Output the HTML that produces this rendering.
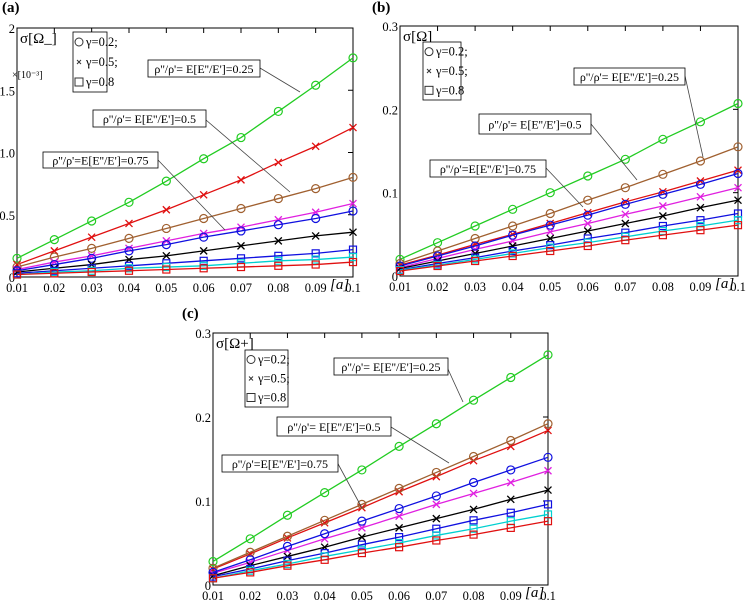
<!DOCTYPE html>
<html><head><meta charset="utf-8"><style>
body{margin:0;background:#fff;}
svg{display:block;font-family:"Liberation Serif",serif;}
</style></head><body>
<svg id="s" width="747" height="600" viewBox="0 0 747 600"></svg>
<script>
const xs=[0.01,0.02,0.03,0.04,0.05,0.06,0.07,0.08,0.09,0.1];
const xTickLabels=["0.01","0.02","0.03","0.04","0.05","0.06","0.07","0.08","0.09","0.1"];
const seriesNames=["rho025-g02","rho05-g05","rho05-g02","rho075-g05","rho075-g02","rho-g05-black","rho-g08-blue","rho-g08-cyan","rho-g08-red"];
const seriesColors=["#22cc22","#e01010","#a06030","#e020e0","#1010e0","#000000","#1010e0","#00d0d0","#e01010"];
const seriesMarkers=["o","x","o","x","o","x","s","s","s"];
const aGreen=[0.15,0.30,0.45,0.60,0.77,0.95,1.12,1.33,1.54,1.76];
const aRedX=[0.10,0.21,0.32,0.43,0.54,0.66,0.78,0.92,1.05,1.20];
const aBrown=[0.08,0.16,0.23,0.31,0.39,0.47,0.55,0.63,0.71,0.80];
const aMag=[0.06,0.12,0.17,0.23,0.29,0.35,0.40,0.46,0.52,0.59];
const aBlueO=[0.05,0.10,0.15,0.21,0.26,0.32,0.37,0.42,0.47,0.53];
const aBlack=[0.04,0.07,0.10,0.14,0.17,0.21,0.25,0.29,0.33,0.36];
const aBlueS=[0.03,0.05,0.07,0.09,0.11,0.13,0.15,0.17,0.19,0.22];
const aCyan=[0.02,0.04,0.05,0.07,0.08,0.09,0.11,0.13,0.14,0.16];
const aRedS=[0.02,0.03,0.04,0.05,0.06,0.07,0.08,0.09,0.10,0.12];
const bGreen=[0.02,0.04,0.06,0.08,0.10,0.12,0.14,0.164,0.185,0.207];
const bRedX=[0.013,0.025,0.038,0.05,0.063,0.076,0.089,0.101,0.114,0.127];
const bBrown=[0.015,0.03,0.045,0.06,0.075,0.091,0.106,0.122,0.138,0.155];
const bMag=[0.01,0.021,0.032,0.042,0.053,0.063,0.074,0.084,0.095,0.106];
const bBlueO=[0.012,0.024,0.036,0.049,0.061,0.073,0.086,0.098,0.11,0.123];
const bBlack=[0.009,0.018,0.027,0.036,0.045,0.054,0.063,0.072,0.082,0.091];
const bBlueS=[0.0075,0.015,0.022,0.030,0.037,0.045,0.052,0.060,0.067,0.075];
const bCyan=[0.007,0.013,0.02,0.027,0.034,0.04,0.047,0.054,0.06,0.067];
const bRedS=[0.006,0.012,0.018,0.024,0.03,0.036,0.043,0.049,0.055,0.061];
const cGreen=[0.028,0.055,0.083,0.11,0.137,0.165,0.192,0.22,0.247,0.274];
const cRedX=[0.019,0.037,0.056,0.074,0.092,0.111,0.129,0.148,0.165,0.184];
const cBrown=[0.02,0.039,0.058,0.077,0.096,0.115,0.134,0.153,0.172,0.192];
const cMag=[0.014,0.027,0.041,0.055,0.068,0.082,0.096,0.109,0.122,0.136];
const cBlueO=[0.015,0.03,0.046,0.061,0.076,0.091,0.106,0.122,0.137,0.152];
const cBlack=[0.011,0.023,0.034,0.045,0.057,0.068,0.079,0.09,0.102,0.113];
const cBlueS=[0.01,0.019,0.029,0.038,0.048,0.057,0.067,0.077,0.086,0.096];
const cCyan=[0.008,0.017,0.025,0.034,0.042,0.05,0.059,0.067,0.076,0.084];
const cRedS=[0.008,0.015,0.023,0.03,0.038,0.045,0.053,0.06,0.068,0.076];
const aTicks=["0","0.5","1.0","1.5","2"], aTickVals=[0,0.5,1,1.5,2];
const bTicks=["0","0.1","0.2","0.3"], bTickVals=[0,0.1,0.2,0.3];

const svg=document.getElementById('s');
const NS="http://www.w3.org/2000/svg";
function mk(tag,attrs,parent){const e=document.createElementNS(NS,tag);for(const k in attrs)e.setAttribute(k,attrs[k]);(parent||svg).appendChild(e);return e;}
function txt(x,y,s,size,parent,anchor,style){const t=mk('text',{x:x,y:y,'font-size':size,'text-anchor':anchor||'start'},parent);if(style)t.setAttribute('style',style);t.textContent=s;return t;}

const panels=[
 {id:"a",label:"(a)",lx:2,ly:12,L:17,R:353,T:28,B:277,ymax:2,ticks:aTicks,tv:aTickVals,data:[aGreen,aRedX,aBrown,aMag,aBlueO,aBlack,aBlueS,aCyan,aRedS],
  ylab:"σ[Ω_]",sci:true,leg:[73,32,34,60],
  boxes:[[148,60,112,17,"ρ''/ρ'= E[E''/E']=0.25",260,68,300,92],[93,110,113,17,"ρ''/ρ'= E[E''/E']=0.5",206,120,290,192],[43,152,115,16,"ρ''/ρ'=E[E''/E']=0.75",158,160,225,230]]},
 {id:"b",label:"(b)",lx:372,ly:12,L:400,R:738,T:26,B:276,ymax:0.3,ticks:bTicks,tv:bTickVals,data:[bGreen,bRedX,bBrown,bMag,bBlueO,bBlack,bBlueS,bCyan,bRedS],
  ylab:"σ[Ω]",sci:false,leg:[423,42,38,58],
  boxes:[[574,68,111,17,"ρ''/ρ'= E[E''/E']=0.25",685,76,703,157],[479,114,112,20,"ρ''/ρ'= E[E''/E']=0.5",591,124,637,180],[430,160,116,17,"ρ''/ρ'=E[E''/E']=0.75",546,168,583,207]]},
 {id:"c",label:"(c)",lx:182,ly:318,L:213,R:548,T:333,B:585,ymax:0.3,ticks:bTicks,tv:bTickVals,data:[cGreen,cRedX,cBrown,cMag,cBlueO,cBlack,cBlueS,cCyan,cRedS],
  ylab:"σ[Ω+]",sci:false,leg:[245,350,43,57],
  boxes:[[334,358,114,17,"ρ''/ρ'= E[E''/E']=0.25",447,367,463,402],[277,417,114,19,"ρ''/ρ'= E[E''/E']=0.5",391,427,449,463],[222,455,116,17,"ρ''/ρ'=E[E''/E']=0.75",337,462,362,508]]}
];

panels.forEach(p=>{
 const g=mk('g',{});
 
 
 const X=v=>p.L+(v-0.01)/(0.1-0.01)*(p.R-p.L);
 const Y=v=>p.B-v/p.ymax*(p.B-p.T);
 const pl=txt(p.lx,p.ly,p.label,15,g,'start','font-weight:bold');
 
 const fr=mk('rect',{x:p.L,y:p.T,width:p.R-p.L,height:p.B-p.T,fill:'none',stroke:'#000','stroke-width':1},g);
 
 p.tv.forEach((v,i)=>{
  const y=Y(v);
  mk('line',{x1:p.R-5,x2:p.R,y1:y,y2:y,stroke:'#000'},g);
  const t=txt(p.L-2,y+5,p.ticks[i],12.5,g,'end');
  
 });
 xs.forEach((v,i)=>{
  const x=X(v);
  mk('line',{x1:x,x2:x,y1:p.T,y2:p.T+5,stroke:'#000'},g);
  const t=txt(x,p.B+15,xTickLabels[i],12.5,g,'middle');
  
 });
 const yl=txt(p.L+3,p.T+15,p.ylab,15,g);
 
 if(p.sci){const s=txt(p.L-5,p.T+50,"×[10⁻³]",10,g);}
 const xl=txt(p.R-23,p.B+12,"[a]",15,g,'start','font-style:italic');
 
 p.data.forEach((arr,si)=>{
  const c=seriesColors[si];
  const sg=mk('g',{},g);
  
  
  mk('polyline',{points:arr.map((v,i)=>X(xs[i])+','+Y(v)).join(' '),fill:'none',stroke:c,'stroke-width':1.3},sg);
  arr.forEach((v,i)=>{
   const x=X(xs[i]),y=Y(v);const m=seriesMarkers[si];
   let e;
   if(m==='o')e=mk('circle',{cx:x,cy:y,r:4,fill:'none',stroke:c,'stroke-width':1.2},sg);
   else if(m==='s')e=mk('rect',{x:x-3.5,y:y-3.5,width:7,height:7,fill:'none',stroke:c,'stroke-width':1.2},sg);
   else e=mk('path',{d:`M${x-3.5},${y-3.5}L${x+3.5},${y+3.5}M${x-3.5},${y+3.5}L${x+3.5},${y-3.5}`,stroke:c,'stroke-width':1.3},sg);
   
   
  });
 });
 const [lx,ly,lw,lh]=p.leg;
 const lg=mk('g',{},g);
 
 mk('rect',{x:lx,y:ly,width:lw,height:lh,fill:'#fff',stroke:'#000','stroke-width':0.8},lg);
 const dy=lh/3;
 [["o","γ=0.2;"],["x","γ=0.5;"],["s","γ=0.8"]].forEach((e,i)=>{
  const cy=ly+dy*(i+0.5);
  if(e[0]==='o')mk('circle',{cx:lx+6,cy:cy,r:4,fill:'none',stroke:'#333'},lg);
  else if(e[0]==='s')mk('rect',{x:lx+2,y:cy-4,width:8,height:8,fill:'none',stroke:'#333'},lg);
  else mk('path',{d:`M${lx+4},${cy-2}L${lx+8},${cy+2}M${lx+4},${cy+2}L${lx+8},${cy-2}`,stroke:'#333'},lg);
  const t=txt(lx+13,cy+4,e[1],12.5,lg);
  
 });
 p.boxes.forEach(b=>{
  const ag=mk('g',{},g);
  
  mk('line',{x1:b[5],y1:b[6],x2:b[7],y2:b[8],stroke:'#444','stroke-width':0.8},ag);
  mk('rect',{x:b[0],y:b[1],width:b[2],height:b[3],fill:'#fff',stroke:'#000','stroke-width':0.8},ag);
  txt(b[0]+b[2]/2,b[1]+b[3]/2+4.5,b[4],12,ag,'middle');
 });
});
</script>
</body></html>
